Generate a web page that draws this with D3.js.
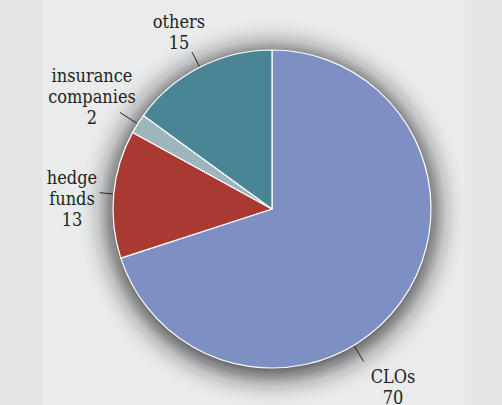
<!DOCTYPE html>
<html><head><meta charset="utf-8">
<script src="https://cdn.jsdelivr.net/npm/d3@7"></script>
<style>html,body{margin:0;padding:0;background:#e5e7e7;}svg{display:block;}
.lbl{font-family:"DejaVu Serif Condensed","DejaVu Serif",serif;font-stretch:condensed;}</style>
</head><body>
<script>
// Data
const categories = ["CLOs", "hedge funds", "insurance companies", "others"];
const values = [70, 13, 2, 15];
const labelLines = [["CLOs", "70"], ["hedge", "funds", "13"], ["insurance", "companies", "2"], ["others", "15"]];
const colors = ["#7e90c3", "#a83a32", "#9db6be", "#4a8595"];

// Layout
const W = 502, H = 405;
const cx = 272, cy = 209, R = 159;
// leader angle (deg, clockwise from 12 o'clock), null => slice mid-angle
const leaderAngle = [149, null, null, null];
const leaderOuter = [178, 173, 180, 176];
const labelPos = [[393, 383], [72, 184], [92, 82], [179, 28]];
const lineH = 21;

const svg = d3.select("body").append("svg").attr("width", W).attr("height", H);
svg.append("rect").attr("width", W).attr("height", H).attr("fill", "#e4e6e6");
svg.append("rect").attr("x", 42).attr("width", 423).attr("height", H).attr("fill", "#e9ebec");
svg.append("rect").attr("x", 465).attr("width", 37).attr("height", H).attr("fill", "#e6e6e6");

const defs = svg.append("defs");
const f = defs.append("filter").attr("id", "sh").attr("x", "-40%").attr("y", "-40%").attr("width", "180%").attr("height", "180%");
f.append("feGaussianBlur").attr("stdDeviation", 14);

const g = svg.append("g").attr("transform", `translate(${cx},${cy})`);
g.append("circle").attr("r", R + 4).attr("cy", 4).attr("fill", "#1a1a1a").attr("opacity", 0.9).attr("filter", "url(#sh)");

const pie = d3.pie().sort(null).value(d => d);
const arcs = pie(values);
const arc = d3.arc().innerRadius(0).outerRadius(R);

g.selectAll("path.slice").data(arcs).join("path")
  .attr("class", "slice")
  .attr("d", arc)
  .attr("fill", (d, i) => colors[i])
  .attr("stroke", "#ffffff").attr("stroke-width", 1.2).attr("stroke-linejoin", "round");

arcs.forEach((d, i) => {
  const aDeg = leaderAngle[i] != null ? leaderAngle[i] : ((d.startAngle + d.endAngle) / 2) * 180 / Math.PI;
  const a = aDeg * Math.PI / 180;
  const r1 = R + 1, r2 = leaderOuter[i];
  g.append("line")
    .attr("x1", r1 * Math.sin(a)).attr("y1", -r1 * Math.cos(a))
    .attr("x2", r2 * Math.sin(a)).attr("y2", -r2 * Math.cos(a))
    .attr("stroke", "#222").attr("stroke-width", 1);
});

const txt = svg.selectAll("text.lbl").data(labelLines).join("text")
  .attr("class", "lbl")
  .attr("x", (d, i) => labelPos[i][0]).attr("y", (d, i) => labelPos[i][1])
  .attr("text-anchor", "middle")
  .attr("font-size", 18).attr("fill", "#231f20");
txt.each(function(lines, i) {
  d3.select(this).selectAll("tspan").data(lines).join("tspan")
    .attr("x", labelPos[i][0]).attr("dy", (l, j) => j === 0 ? 0 : lineH)
    .text(l => l);
});
</script>
</body></html>
